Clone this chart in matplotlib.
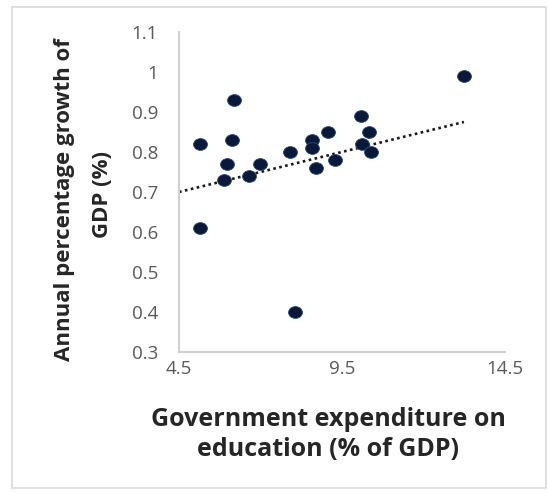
import matplotlib
matplotlib.use("Agg")
import matplotlib.pyplot as plt
from matplotlib.path import Path
from matplotlib.patches import Rectangle
from matplotlib.transforms import Affine2D

# Education spending vs GDP growth
edu_spend = [5.14, 5.14, 6.19, 6.14, 5.96, 5.87, 6.65, 6.97, 7.89, 8.07,
             8.58, 8.58, 8.69, 9.07, 9.30, 10.08, 10.10, 10.34, 10.39, 13.24]
gdp_growth = [0.82, 0.61, 0.93, 0.83, 0.77, 0.73, 0.74, 0.77, 0.80, 0.40,
              0.83, 0.81, 0.76, 0.85, 0.78, 0.89, 0.82, 0.85, 0.80, 0.99]

# Linear trend line end points
trend_x = [4.5, 13.24]
trend_y = [0.70, 0.875]

x_ticks = [4.5, 9.5, 14.5]
x_tick_labels = ["4.5", "9.5", "14.5"]
y_ticks = [0.3, 0.4, 0.5, 0.6, 0.7, 0.8, 0.9, 1.0, 1.1]
y_tick_labels = ["0.3", "0.4", "0.5", "0.6", "0.7", "0.8", "0.9", "1", "1.1"]

W, H = 548, 492
fig = plt.figure(figsize=(W / 100, H / 100), dpi=100)
fig.patch.set_facecolor("white")

# light frame around the chart
fig.patches.append(Rectangle((12 / W, 1 - 488 / H), (546 - 12) / W, (488 - 7) / H,
                             transform=fig.transFigure, fill=False,
                             edgecolor="#d9d9d9", linewidth=1.2))

left, right, top, bottom = 179, 505, 32, 352
ax = fig.add_axes([left / W, 1 - bottom / H, (right - left) / W, (bottom - top) / H])

# slightly wide elliptical marker
ellipse = Path.unit_circle().transformed(Affine2D().scale(1.18, 1.0))

ax.plot(trend_x, trend_y, color="#1a1a1a", linewidth=1.9,
        linestyle=(0, (1, 1.3)), zorder=2)
ax.plot(edu_spend, gdp_growth, linestyle="none", marker=ellipse,
        markersize=10, markerfacecolor="#0b1838", markeredgecolor="#2a4a7a",
        markeredgewidth=0.6, zorder=3)

ax.set_xlim(4.5, 14.5)
ax.set_ylim(0.3, 1.1)
ax.set_xticks(x_ticks)
ax.set_xticklabels(x_tick_labels)
ax.set_yticks(y_ticks)
ax.set_yticklabels(y_tick_labels)
ax.tick_params(length=0, labelsize=13.5, labelcolor="#595959")
ax.tick_params(axis="y", pad=15)
ax.tick_params(axis="x", pad=6)
for lbl in ax.get_xticklabels() + ax.get_yticklabels():
    lbl.set_family("Open Sans")
for s in ["top", "right"]:
    ax.spines[s].set_visible(False)
for s in ["left", "bottom"]:
    ax.spines[s].set_color("#d0d0d0")
    ax.spines[s].set_linewidth(1.5)

title_kw = dict(family="Open Sans", fontweight="bold",
                color="#262626", ha="center", va="center")
fig.text(328 / W, 1 - 420 / H, "Government expenditure on", fontsize=18, **title_kw)
fig.text(328 / W, 1 - 450 / H, "education (% of GDP)", fontsize=18, **title_kw)
fig.text(65 / W, 1 - 200 / H, "Annual percentage growth of", rotation=90,
         fontsize=16, **title_kw)
fig.text(103 / W, 1 - 195 / H, "GDP (%)", rotation=90, fontsize=16, **title_kw)

fig.savefig("out.png", dpi=100)
